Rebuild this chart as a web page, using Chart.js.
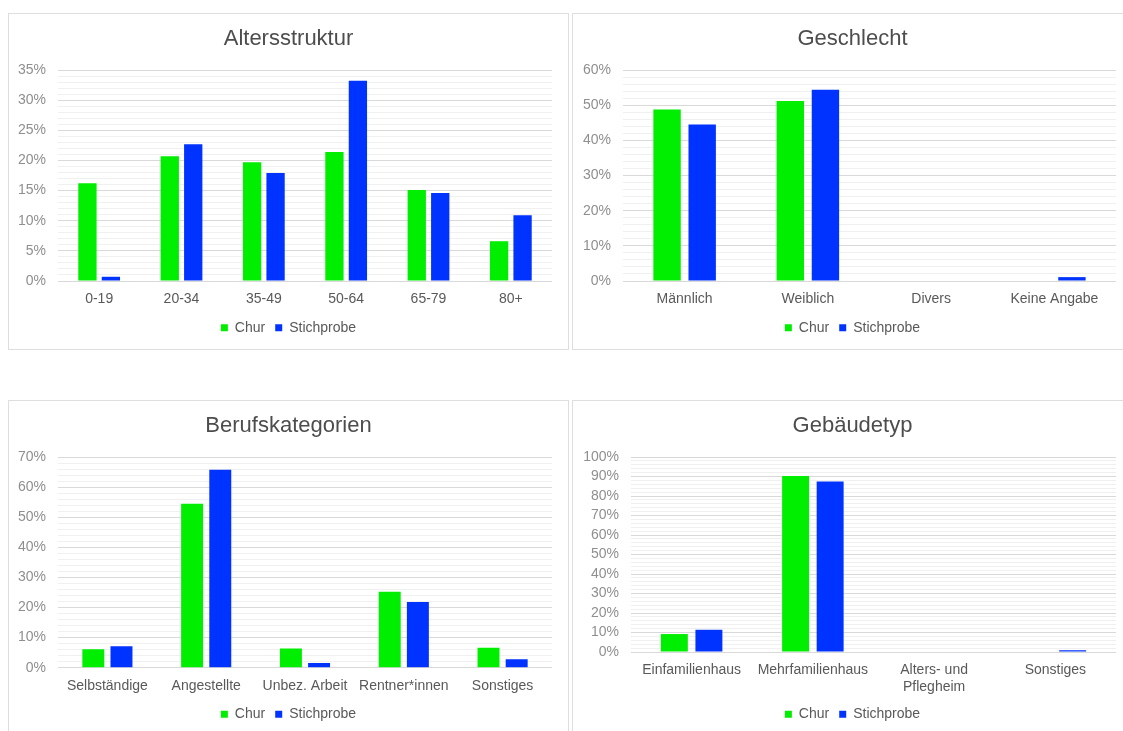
<!DOCTYPE html>
<html lang="de">
<head>
<meta charset="utf-8">
<title>Stichprobe Chur</title>
<script src="https://cdn.jsdelivr.net/npm/chart.js@4"></script>
<style>
  html, body { margin: 0; padding: 0; background: #fff; }
  body { width: 1123px; height: 731px; overflow: hidden; position: relative; }
  .panel {
    position: absolute;
    box-sizing: border-box;
    border: 1px solid #dedede;
    background: #fff;
    width: 561px;
  }
  .panel canvas { position: absolute; left: 0; top: 0; }
  #p1 { left: 8px; top: 13px; height: 337px; }
  #p2 { left: 572px; top: 13px; height: 337px; }
  #p3 { left: 8px; top: 400px; height: 345px; }
  #p4 { left: 572px; top: 400px; height: 345px; }
</style>
</head>
<body>
<div class="panel" id="p1"><canvas id="altersChart"></canvas></div>
<div class="panel" id="p2"><canvas id="geschlechtChart"></canvas></div>
<div class="panel" id="p3"><canvas id="berufChart"></canvas></div>
<div class="panel" id="p4"><canvas id="gebaeudeChart"></canvas></div>
<script>
const seriesNames = ['Chur', 'Stichprobe'];
const seriesColors = ['#00ee00', '#0033ff'];

const altersLabels = ['0-19', '20-34', '35-49', '50-64', '65-79', '80+'];
const altersChur = [16.2, 20.7, 19.7, 21.4, 15.1, 6.6];
const altersStichprobe = [0.7, 22.7, 17.9, 33.2, 14.6, 10.9];

const geschlechtLabels = ['Männlich', 'Weiblich', 'Divers', 'Keine Angabe'];
const geschlechtChur = [48.8, 51.2, 0, 0];
const geschlechtStichprobe = [44.5, 54.4, 0, 1.1];

const berufLabels = ['Selbständige', 'Angestellte', 'Unbez. Arbeit', 'Rentner*innen', 'Sonstiges'];
const berufChur = [6.1, 54.5, 6.4, 25.2, 6.6];
const berufStichprobe = [7.1, 65.8, 1.6, 21.8, 2.8];

const gebaeudeLabels = ['Einfamilienhaus', 'Mehrfamilienhaus', ['Alters- und', 'Pflegheim'], 'Sonstiges'];
const gebaeudeChur = [9.2, 90.3, 0, 0];
const gebaeudeStichprobe = [11.4, 87.4, 0, 0.9];

Chart.defaults.font.family = '"Liberation Sans", Arial, sans-serif';
Chart.defaults.animation = false;

// axis: {max, major, minor}, box: {yWidth, xHeight, bottom}
function makeChart(id, title, labels, chur, stichprobe, axis, box) {
    const context = document.getElementById(id).getContext('2d');
    return new Chart(context, {
        type: 'bar',
        data: {
            labels: labels,
            datasets: [
                { label: seriesNames[0], data: chur, backgroundColor: seriesColors[0] },
                { label: seriesNames[1], data: stichprobe, backgroundColor: seriesColors[1] }
            ]
        },
        options: {
            responsive: true,
            maintainAspectRatio: false,
            categoryPercentage: 0.57,
            barPercentage: 0.78,
            layout: { padding: { top: 0, left: 0, right: 0, bottom: box.bottom } },
            plugins: {
                title: {
                    display: true,
                    text: title,
                    color: '#4d4d4d',
                    font: { size: 22, weight: 'normal' },
                    padding: { top: 12, bottom: 17.6 }
                },
                legend: {
                    position: 'bottom',
                    labels: {
                        boxWidth: 7,
                        boxHeight: 7,
                        color: '#595959',
                        font: { size: 14 },
                        padding: 10
                    }
                },
                tooltip: { enabled: false }
            },
            scales: {
                x: {
                    grid: { display: false },
                    border: { display: false },
                    ticks: { color: '#595959', font: { size: 14 }, padding: 2, maxRotation: 0, autoSkip: false },
                    afterFit: scale => { scale.height = box.xHeight; }
                },
                y: {
                    min: 0,
                    max: axis.max,
                    border: { display: false },
                    grid: {
                        drawTicks: false,
                        color: ctx => (ctx.tick && ctx.tick.value % axis.major === 0) ? '#d9d9d9' : '#f0f0f0'
                    },
                    ticks: {
                        stepSize: axis.minor,
                        autoSkip: false,
                        color: '#8f8f8f',
                        font: { size: 14 },
                        padding: 12,
                        callback: value => value % axis.major === 0 ? value + '%' : ''
                    },
                    afterFit: scale => { scale.width = box.yWidth; }
                },
                // empty margin on the right of the plot
                spacer: {
                    type: 'linear',
                    position: 'right',
                    grid: { display: false },
                    border: { display: false },
                    ticks: { display: false },
                    afterFit: scale => { scale.width = 16; }
                }
            }
        }
    });
}

makeChart('altersChart', 'Altersstruktur', altersLabels, altersChur, altersStichprobe,
    { max: 35, major: 5, minor: 1 }, { yWidth: 49, xHeight: 29.7, bottom: 4.3 });
makeChart('geschlechtChart', 'Geschlecht', geschlechtLabels, geschlechtChur, geschlechtStichprobe,
    { max: 60, major: 10, minor: 2 }, { yWidth: 50, xHeight: 29.7, bottom: 4.3 });
makeChart('berufChart', 'Berufskategorien', berufLabels, berufChur, berufStichprobe,
    { max: 70, major: 10, minor: 2 }, { yWidth: 49, xHeight: 29.6, bottom: 12.7 });
makeChart('gebaeudeChart', 'Gebäudetyp', gebaeudeLabels, gebaeudeChur, gebaeudeStichprobe,
    { max: 100, major: 10, minor: 2 }, { yWidth: 58, xHeight: 45.3, bottom: 12.7 });
</script>
</body>
</html>
